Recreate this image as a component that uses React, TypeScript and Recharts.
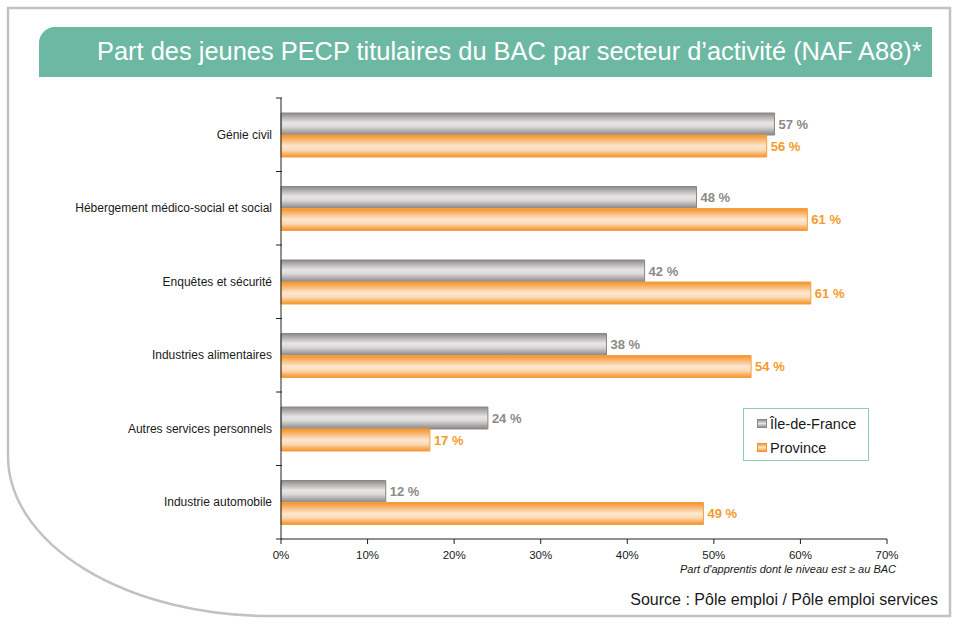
import React, { useLayoutEffect, useRef, useState } from 'react'
import { BarChart, Bar, XAxis, YAxis, LabelList } from 'recharts'

// secteurs (NAF A88) et parts de jeunes titulaires du BAC, en %
const sectors = [
  'Génie civil',
  'Hébergement médico-social et social',
  'Enquêtes et sécurité',
  'Industries alimentaires',
  'Autres services personnels',
  'Industrie automobile',
]
const ileDeFrance = [57, 48, 42, 37.6, 23.9, 12.1]
const province = [56.1, 60.8, 61.2, 54.3, 17.2, 48.8]
const xTicks = [0, 10, 20, 30, 40, 50, 60, 70]

const TITLE = 'Part des jeunes PECP titulaires du BAC par secteur d’activité (NAF A88)*'

const W = 954
const H = 625
const GREY_TXT = '#8d8989'
const ORANGE_TXT = '#f59a2c'

const chartData = sectors.map((name, i) => ({
  name,
  ile: ileDeFrance[i],
  prov: province[i],
}))

// category labels + ticks placed on the band boundaries (like the original)
function SectorTick(props: any) {
  const { x, y, payload, index } = props
  const band = (539 - 98) / sectors.length
  return (
    <g>
      <line x1={x + 3} x2={x + 9} y1={y - band / 2} y2={y - band / 2} stroke="#222" />
      {index === sectors.length - 1 && (
        <line x1={x + 3} x2={x + 9} y1={y + band / 2} y2={y + band / 2} stroke="#222" />
      )}
      <text
        x={x - 1}
        y={y}
        dy={4}
        textAnchor="end"
        fontSize={12}
        fill="#1a1a1a"
        fontFamily="'Liberation Sans', Arial, sans-serif"
      >
        {payload.value}
      </text>
    </g>
  )
}

// condensed title: squeeze the text horizontally to the width of the original
function Title() {
  const ref = useRef<HTMLSpanElement>(null)
  const [sx, setSx] = useState(0.9)
  useLayoutEffect(() => {
    if (ref.current) {
      const w = ref.current.offsetWidth
      if (w > 0) setSx(Math.min(1, 825 / w))
    }
  }, [])
  return (
    <span
      ref={ref}
      style={{
        position: 'absolute',
        left: 97,
        top: 36,
        fontSize: 26.5,
        lineHeight: '30px',
        color: '#fff',
        whiteSpace: 'nowrap',
        transform: `scaleX(${sx})`,
        transformOrigin: 'left center',
      }}
    >
      {TITLE}
    </span>
  )
}

function LegendBox() {
  const items = [
    { label: 'Île-de-France', mid: '#e6e4e4', stroke: '#8a8686' },
    { label: 'Province', mid: '#fde6cc', stroke: '#f39225' },
  ]
  return (
    <div
      style={{
        position: 'absolute',
        left: 743,
        top: 408,
        width: 126,
        height: 53,
        border: '1.5px solid #8ccbb9',
        background: '#fff',
        boxSizing: 'border-box',
        padding: '4px 0 0 13px',
        fontSize: 14.5,
        color: '#1a1a1a',
      }}
    >
      {items.map((it, i) => (
        <div key={it.label} style={{ display: 'flex', alignItems: 'center', height: 21, marginBottom: 3 }}>
          <svg width={11} height={10} style={{ marginRight: 2 }}>
            <defs>
              <linearGradient id={'legGrad' + i} x1="0" y1="0" x2="0" y2="1">
                <stop offset="0" stopColor={it.stroke} />
                <stop offset="0.5" stopColor={it.mid} />
                <stop offset="1" stopColor={it.stroke} />
              </linearGradient>
            </defs>
            <rect x={0.5} y={0.5} width={9} height={8} fill={'url(#legGrad' + i + ')'} stroke={it.stroke} />
          </svg>
          <span>{it.label}</span>
        </div>
      ))}
    </div>
  )
}

export default function App() {
  return (
    <div
      style={{
        position: 'absolute',
        left: 0,
        top: 0,
        width: W,
        height: H,
        background: '#fff',
        fontFamily: "'Liberation Sans', Arial, sans-serif",
      }}
    >
      {/* frame with the large rounded bottom-left corner */}
      <svg width={W} height={H} style={{ position: 'absolute', left: 0, top: 0 }}>
        <path
          d="M 8 456 L 8 8 L 950 8 L 950 616 L 270 616 A 262 160 0 0 1 8 456"
          fill="none"
          stroke="#c6c0c0"
          strokeWidth={2.5}
        />
      </svg>

      {/* title banner */}
      <div
        style={{
          position: 'absolute',
          left: 39,
          top: 27,
          width: 893,
          height: 50,
          background: '#6db8a3',
          borderTopLeftRadius: 16,
        }}
      />
      <Title />

      <div style={{ position: 'absolute', left: 0, top: 0 }}>
        <BarChart
          width={W}
          height={H}
          data={chartData}
          layout="vertical"
          margin={{ top: 98, right: 67, bottom: 56, left: 81 }}
          barGap={0}
          barSize={22}
        >
          <defs>
            <linearGradient id="gradGrey" x1="0" y1="0" x2="0" y2="1">
              <stop offset="0" stopColor="#8d8989" />
              <stop offset="0.18" stopColor="#b3afaf" />
              <stop offset="0.45" stopColor="#e7e5e5" />
              <stop offset="0.62" stopColor="#dddada" />
              <stop offset="0.85" stopColor="#aaa6a6" />
              <stop offset="1" stopColor="#8a8686" />
            </linearGradient>
            <linearGradient id="gradOrange" x1="0" y1="0" x2="0" y2="1">
              <stop offset="0" stopColor="#f39225" />
              <stop offset="0.2" stopColor="#f8b46c" />
              <stop offset="0.5" stopColor="#fde8d2" />
              <stop offset="0.7" stopColor="#fcd8b2" />
              <stop offset="1" stopColor="#f39225" />
            </linearGradient>
          </defs>
          <XAxis
            type="number"
            domain={[0, 70]}
            ticks={xTicks}
            tickFormatter={(v) => v + '%'}
            axisLine={{ stroke: '#222' }}
            tickLine={{ stroke: '#222' }}
            tickSize={5}
            tickMargin={7}
            tick={{ fontSize: 11.5, fill: '#1a1a1a' }}
            height={30}
          />
          <YAxis
            type="category"
            dataKey="name"
            width={200}
            axisLine={{ stroke: '#222' }}
            tickLine={false}
            tick={<SectorTick />}
            interval={0}
          />
          <Bar
            dataKey="ile"
            name="Île-de-France"
            fill="url(#gradGrey)"
            stroke="#8a8686"
            strokeWidth={1}
            isAnimationActive={false}
          >
            <LabelList
              dataKey="ile"
              position="right"
              offset={4}
              formatter={(v: any) => Math.round(v) + ' %'}
              style={{ fill: GREY_TXT, fontSize: 13, fontWeight: 'bold' }}
            />
          </Bar>
          <Bar
            dataKey="prov"
            name="Province"
            fill="url(#gradOrange)"
            stroke="#f5a040"
            strokeWidth={1}
            isAnimationActive={false}
          >
            <LabelList
              dataKey="prov"
              position="right"
              offset={4}
              formatter={(v: any) => Math.round(v) + ' %'}
              style={{ fill: ORANGE_TXT, fontSize: 13, fontWeight: 'bold' }}
            />
          </Bar>
        </BarChart>
      </div>

      <LegendBox />

      {/* axis title */}
      <div
        style={{
          position: 'absolute',
          right: W - 896,
          top: 563,
          fontSize: 11,
          fontStyle: 'italic',
          color: '#1a1a1a',
          whiteSpace: 'nowrap',
        }}
      >
        Part d'apprentis dont le niveau est ≥ au BAC
      </div>

      {/* source */}
      <div
        style={{
          position: 'absolute',
          right: W - 938,
          top: 591,
          fontSize: 16,
          color: '#1a1a1a',
          whiteSpace: 'nowrap',
        }}
      >
        Source : Pôle emploi / Pôle emploi services
      </div>
    </div>
  )
}
